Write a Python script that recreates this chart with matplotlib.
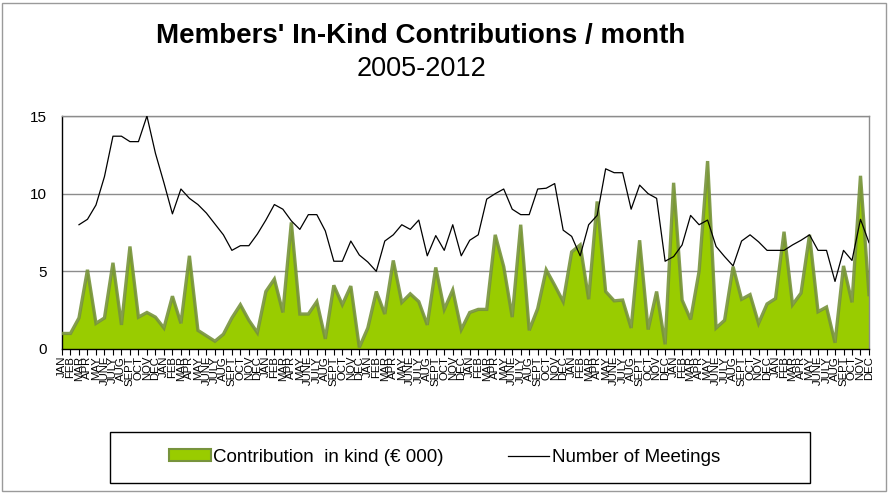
"""Members' in-kind contributions per month, 2005-2012.

Green area for the contribution in kind (EUR 000) with the monthly
number of meetings drawn on top as a thin black line.
"""

import matplotlib

matplotlib.use("Agg")
import matplotlib.pyplot as plt
import numpy as np
from matplotlib.patches import Rectangle

plt.rcParams["font.family"] = ["Liberation Sans", "DejaVu Sans"]

MONTHS = ["JAN", "FEB", "MAR", "APR", "MAY", "JUNE", "JULY", "AUG", "SEPT", "OCT", "NOV", "DEC"]
YEARS = [2005, 2006, 2007, 2008, 2009, 2010, 2011, 2012]

# Contribution in kind (EUR 000), one value per month
contribution = [
    1.0, 1.0, 2.0, 5.1, 1.65, 2.0, 5.55, 1.55, 6.6, 2.05, 2.35, 2.05,
    1.35, 3.4, 1.65, 6.0, 1.2, 0.85, 0.5, 0.95, 2.0, 2.85, 1.85, 1.05,
    3.7, 4.5, 2.35, 8.15, 2.25, 2.25, 3.05, 0.65, 4.1, 2.85, 4.05, 0.1,
    1.35, 3.7, 2.25, 5.7, 3.0, 3.55, 3.05, 1.55, 5.25, 2.55, 3.8, 1.25,
    2.35, 2.55, 2.55, 7.35, 5.3, 2.05, 8.0, 1.2, 2.6, 5.1, 4.1, 3.05,
    6.25, 6.7, 3.2, 9.5, 3.7, 3.1, 3.15, 1.35, 7.0, 1.25, 3.7, 0.3,
    10.7, 3.15, 1.9, 5.0, 12.1, 1.35, 1.85, 5.3, 3.2, 3.5, 1.65, 2.9,
    3.25, 7.55, 2.85, 3.6, 7.35, 2.4, 2.7, 0.4, 5.35, 3.0, 11.15, 3.5,
]

# Number of meetings per month (no record for the first two months)
meetings = [
    np.nan, np.nan, 8.0, 8.35, 9.27, 11.1, 13.7, 13.7, 13.35, 13.35, 15.0, 12.6,
    10.7, 8.7, 10.3, 9.7, 9.3, 8.75, 8.05, 7.35, 6.35, 6.65, 6.65, 7.4,
    8.3, 9.3, 9.0, 8.25, 7.7, 8.65, 8.65, 7.6, 5.65, 5.65, 6.95, 6.05,
    5.6, 5.0, 6.95, 7.35, 8.0, 7.7, 8.3, 6.0, 7.3, 6.35, 8.0, 6.0,
    7.0, 7.35, 9.65, 10.0, 10.3, 9.0, 8.65, 8.65, 10.3, 10.35, 10.65, 7.65,
    7.25, 6.0, 8.0, 8.6, 11.6, 11.35, 11.35, 9.0, 10.55, 10.0, 9.7, 5.65,
    5.95, 6.7, 8.6, 8.0, 8.3, 6.6, 5.95, 5.35, 6.95, 7.35, 6.9, 6.35,
    6.35, 6.35, 6.7, 7.0, 7.35, 6.35, 6.35, 4.35, 6.35, 5.7, 8.35, 6.85,
]

FILL_COLOR = "#99cc00"
EDGE_COLOR = "#77933c"
GRID_COLOR = "#8c8c8c"

x = np.arange(len(contribution))
tick_labels = MONTHS * len(YEARS)

fig = plt.figure(figsize=(8.92, 4.93), dpi=100)
ax = fig.add_axes([0.0695, 0.2921, 0.9047, 0.4726])

ax.fill_between(x, contribution, 0, color=FILL_COLOR, lw=0, zorder=2)
ax.plot(x, contribution, color=EDGE_COLOR, lw=2.4, alpha=0.9, solid_joinstyle="miter", zorder=3)
ax.plot(x, meetings, color="black", lw=0.9, zorder=4)

ax.set_xlim(0, len(contribution) - 1)
ax.set_ylim(0, 15)
ax.set_yticks([0, 5, 10, 15])
ax.tick_params(axis="y", labelsize=11, length=0, pad=11)
ax.set_xticks(x)
# month labels are packed tightly and overlap, as in the original chart
ax.set_xticklabels(tick_labels, rotation=90, fontsize=8.2)
ax.tick_params(axis="x", length=4, width=0.8, pad=1, direction="out")
ax.grid(axis="y", color=GRID_COLOR, lw=1, zorder=0)
ax.set_axisbelow(True)

for side in ("left", "bottom"):
    ax.spines[side].set_color("black")
    ax.spines[side].set_linewidth(1)
for side in ("top", "right"):
    ax.spines[side].set_color(GRID_COLOR)
    ax.spines[side].set_linewidth(1)

fig.text(0.472, 0.913, "Members' In-Kind Contributions / month", ha="center", va="baseline",
         fontsize=20, fontweight="bold")
fig.text(0.472, 0.846, "2005-2012", ha="center", va="baseline", fontsize=19.5)

# Legend box drawn as a plain rectangle, entries centred inside
fig.add_artist(Rectangle((0.123, 0.02), 0.785, 0.104, transform=fig.transFigure,
                         fill=False, edgecolor="black", lw=1))
area_handle = Rectangle((0, 0), 1, 1, facecolor=FILL_COLOR, edgecolor=EDGE_COLOR, lw=1.5)
line_handle = plt.Line2D([0], [0], color="black", lw=0.9)
fig.legend([area_handle, line_handle], ["Contribution  in kind (\u20ac 000)", "Number of Meetings"],
           loc="center", bbox_to_anchor=(0.4985, 0.072), ncol=2, frameon=False, fontsize=13.5,
           handlelength=2.2, handleheight=0.6, handletextpad=0.15, columnspacing=3.4)

# Thin outer border of the chart
fig.add_artist(Rectangle((0.002, 0.004), 0.991, 0.99, transform=fig.transFigure,
                         fill=False, edgecolor="#9a9a9a", lw=1))

fig.savefig("out.png", dpi=100)
plt.close(fig)
